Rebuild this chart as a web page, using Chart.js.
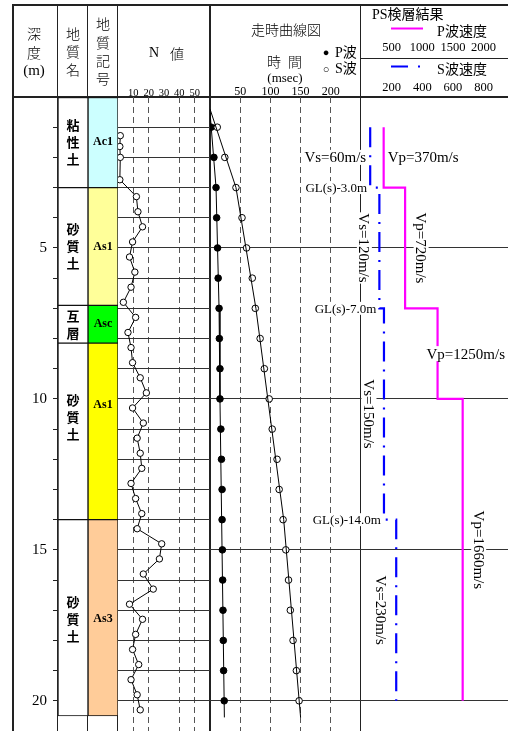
<!DOCTYPE html>
<html>
<head>
<meta charset="utf-8">
<script src="https://cdn.jsdelivr.net/npm/chart.js@4.4.0/dist/chart.umd.min.js"></script>
<style>
html, body { margin: 0; padding: 0; background: #fff; }
#wrap { position: relative; width: 508px; height: 731px; overflow: hidden; font: 13px "Liberation Serif", "Noto Sans CJK JP", serif; color: #000; }
canvas { position: absolute; top: 0; }
.ln { position: absolute; background: #222; }
.c, .l { position: absolute; white-space: nowrap; line-height: 1; }
.c { transform: translate(-50%, -50%); }
.l { transform: translateY(-50%); }
.jp { font-family: "Noto Sans CJK JP", sans-serif; font-size: 14px; font-weight: 300; }
</style>
</head>
<body>
<div id="wrap">
  <!-- frame -->
  <div class="ln" style="left:12px;top:4px;width:496px;height:2px"></div>
  <div class="ln" style="left:12px;top:96px;width:496px;height:2px"></div>
  <div class="ln" style="left:361px;top:58px;width:147px;height:1px"></div>
  <div class="ln" style="left:12px;top:4px;width:2px;height:727px"></div>
  <div class="ln" style="left:57px;top:4px;width:1px;height:727px"></div>
  <div class="ln" style="left:87px;top:4px;width:1px;height:727px"></div>
  <div class="ln" style="left:117px;top:4px;width:1px;height:727px"></div>
  <div class="ln" style="left:209px;top:4px;width:2px;height:727px"></div>
  <div class="ln" style="left:360px;top:4px;width:1px;height:727px"></div>

  <canvas id="geo" width="105" height="731" style="left:13px"></canvas>
  <canvas id="nval" width="92" height="731" style="left:118px"></canvas>
  <canvas id="tt" width="151" height="731" style="left:210px"></canvas>
  <canvas id="ps" width="218" height="731" style="left:290px"></canvas>

  <!-- header text -->
  <div class="c jp" style="left:34px;top:33px">深</div>
  <div class="c jp" style="left:34px;top:52px">度</div>
  <div class="c" style="left:34px;top:70px;font-size:15px">(m)</div>
  <div class="c jp" style="left:73px;top:33px">地</div>
  <div class="c jp" style="left:73px;top:51px">質</div>
  <div class="c jp" style="left:73px;top:69px">名</div>
  <div class="c jp" style="left:103px;top:23px">地</div>
  <div class="c jp" style="left:103px;top:42px">質</div>
  <div class="c jp" style="left:103px;top:60px">記</div>
  <div class="c jp" style="left:103px;top:78px">号</div>
  <div class="c" style="left:154px;top:53px;font-size:14px">N</div>
  <div class="c jp" style="left:177px;top:53px">値</div>
  <div class="c jp" style="left:286px;top:29px">走時曲線図</div>
  <div class="c jp" style="left:274px;top:61px">時</div>
  <div class="c jp" style="left:295px;top:61px">間</div>
  <div class="c" style="left:285px;top:77px">(msec)</div>
  <div class="c" style="left:326px;top:52px;font-size:11px">●</div>
  <div class="l" style="left:335px;top:53px;font-size:14px">P波</div>
  <div class="c" style="left:326px;top:69px;font-size:11px">○</div>
  <div class="l" style="left:335px;top:69px;font-size:14px">S波</div>
  <div class="l" style="left:372px;top:15px;font-size:14px">PS検層結果</div>
  <div class="c" style="left:462px;top:32px;font-size:14px">P波速度</div>
  <div class="c" style="left:462px;top:70px;font-size:14px">S波速度</div>
</div>

<script>
// ---- geology ----
const depthTickLabels = [5, 10, 15, 20];
const layerName = ['粘性土', '砂質土', '互層', '砂質土', '砂質土'];
const layerSymbol = ['Ac1', 'As1', 'Asc', 'As1', 'As3'];
const layerTop = [0, 3, 6.9, 8.15, 14];
const layerBottom = [3, 6.9, 8.15, 14, 20.5];
const nameDepth = [1.5, 4.95, 7.53, 10.6, 17.3];
const symbolDepth = [1.5, 4.95, 7.53, 10.2, 17.3];
const layerColors = ['#ccffff', '#ffff99', '#00ff00', '#ffff00', '#ffcc99'];

// ---- N value ----
const nDepth = [1.28, 1.64, 2.0, 2.74, 3.3, 3.8, 4.3, 4.8, 5.3, 5.8, 6.3, 6.8, 7.3, 7.8, 8.3, 8.8, 9.3, 9.8,
    10.3, 10.8, 11.3, 11.8, 12.3, 12.8, 13.3, 13.8, 14.3, 14.8, 15.3, 15.8, 16.3, 16.8, 17.3, 17.8, 18.3, 18.8,
    19.3, 19.8, 20.3];
const nValue = [1.5, 1.2, 1.5, 1.2, 12, 13, 16, 9.5, 7.5, 11, 8.5, 3.5, 11.5, 6.5, 8.5, 9.5, 14.5, 18.5,
    9.5, 16.5, 12.5, 14.5, 15.5, 8.5, 11.5, 15.5, 12.5, 28.5, 27, 16.5, 23, 7.5, 16, 11.5, 9.5, 13.5,
    8.5, 12.5, 14.5];
const nTickLabels = [10, 20, 30, 40, 50];
const nGridValues = [10, 20, 40, 50];

// ---- travel time ----
const ttDepth = [1, 2, 3, 4, 5, 6, 7, 8, 9, 10, 11, 12, 13, 14, 15, 16, 17, 18, 19, 20];
const pTime = [2, 6.5, 10, 11, 12.5, 13.5, 15, 15.5, 16.5, 16.5, 18, 19, 20, 20, 20.5, 21, 21.5, 22, 22.5, 23.5];
const sTime = [12, 24.5, 43, 53, 60.5, 70, 75, 83, 90, 98, 103, 111, 114.5, 121, 125.5, 130, 133, 137.5, 143, 147.5];
const pFitTime = [0, 10, 15, 16.5, 23.8];
const pFitDepth = [0.5, 3, 7, 10, 20.55];
const sFitTime = [0, 43, 76, 122, 150];
const sFitDepth = [0.4, 3, 7, 14, 20.55];
const timeTickLabels = [50, 100, 150, 200];

// ---- PS logging ----
const vp = [370, 720, 1250, 1660];
const vpTop = [1, 3, 7, 10];
const vpBottom = [3, 7, 10, 20];
const vs = [60, 120, 150, 230];
const vsTop = [1, 3, 7, 14];
const vsBottom = [3, 7, 14, 20];
const pTickLabels = [500, 1000, 1500, 2000];
const sTickLabels = [200, 400, 600, 800];

const SERIF = '"Liberation Serif", "Noto Sans CJK JP", serif';
Chart.defaults.animation = false;
Chart.defaults.events = [];
Chart.defaults.font.family = SERIF;
Chart.defaults.color = '#000';
Chart.defaults.plugins.legend.display = false;
Chart.defaults.plugins.tooltip.enabled = false;

const clear = 'rgba(0,0,0,0)';
const pts = (xs, ys) => xs.map((x, i) => ({ x: x, y: ys[i] }));
const steps = (vals, tops, bottoms) => vals.flatMap((v, i) => [{ x: v, y: tops[i] }, { x: v, y: bottoms[i] }]);
const noPad = s => { s.paddingLeft = 0; s.paddingRight = 0; s.paddingTop = 0; s.paddingBottom = 0; };
// keep only the listed tick labels
const onlyLabels = labels => s => { s.ticks.forEach(t => { t.label = labels.includes(t.value) ? String(t.value) : ''; }); };

const hiddenDepthAxis = (step) => ({
    type: 'linear', reverse: true, min: 0, max: 21,
    ticks: { display: false, stepSize: step },
    grid: { drawTicks: false, lineWidth: 1, color: c => c.tick && c.tick.value > 0 && c.tick.value <= 20 ? '#333' : clear },
    border: { display: false },
    afterFit: s => { s.width = 0; noPad(s); }
});

const topAxis = (min, max, step, labels, gridValues, height, padding, size, extra) => Object.assign({
    type: 'linear', position: 'top', min: min, max: max,
    ticks: { stepSize: step, autoSkip: false, maxRotation: 0, padding: padding, font: { size: size, lineHeight: 1 } },
    grid: { drawTicks: false, lineWidth: 1, color: c => c.tick && gridValues.includes(c.tick.value) ? '#555' : clear },
    border: { display: false, dash: [6, 4] },
    afterTickToLabelConversion: onlyLabels(labels),
    afterFit: s => { s.height = height; noPad(s); }
}, extra);

const baseOptions = (scales, padding) => ({
    responsive: false,
    devicePixelRatio: 1,
    layout: { autoPadding: false, padding: padding || 0 },
    scales: scales
});

// geology columns
const geoLabels = {
    id: 'geoLabels',
    afterDatasetsDraw(chart) {
        const { ctx, scales: { x, y } } = chart;
        ctx.save();
        ctx.fillStyle = '#000';
        ctx.textAlign = 'center';
        ctx.textBaseline = 'middle';
        layerName.forEach((name, i) => {
            const chars = [...name];
            const cy = y.getPixelForValue(nameDepth[i]);
            ctx.font = 'bold 13px "Noto Sans CJK JP"';
            chars.forEach((ch, k) => ctx.fillText(ch, x.getPixelForValue(0), cy + (k - (chars.length - 1) / 2) * 17));
            ctx.font = 'bold 12px "Liberation Serif"';
            ctx.fillText(layerSymbol[i], x.getPixelForValue(1), y.getPixelForValue(symbolDepth[i]));
        });
        ctx.restore();
    }
};

new Chart(document.getElementById('geo'), {
    type: 'bar',
    data: {
        labels: ['name', 'symbol'],
        datasets: [
            {
                data: layerTop.map((t, i) => ({ x: 'name', y: [t, layerBottom[i]] })),
                backgroundColor: '#fff', borderColor: '#111', borderWidth: 1, borderSkipped: false,
                grouped: false, barPercentage: 1, categoryPercentage: 1
            },
            {
                data: layerTop.map((t, i) => ({ x: 'symbol', y: [t, layerBottom[i]] })),
                backgroundColor: layerColors, borderColor: '#111', borderWidth: 1, borderSkipped: false,
                grouped: false, barPercentage: 1, categoryPercentage: 1
            }
        ]
    },
    options: baseOptions({
        x: { display: false },
        y: {
            type: 'linear', reverse: true, min: 0, max: 21, position: 'left',
            ticks: { stepSize: 1, padding: 6, autoSkip: false, font: { size: 15 } },
            afterTickToLabelConversion: onlyLabels(depthTickLabels),
            grid: { drawOnChartArea: false, tickLength: 5, color: '#222' },
            border: { display: false },
            afterFit: s => { s.width = 45; noPad(s); }
        }
    }, { top: 97, left: 0, right: 0, bottom: 0 }),
    plugins: [geoLabels]
});

// N value
new Chart(document.getElementById('nval'), {
    type: 'scatter',
    data: {
        datasets: [{
            data: pts(nValue, nDepth), showLine: true,
            borderColor: '#000', borderWidth: 1,
            pointRadius: 3.2, pointBackgroundColor: '#fff', pointBorderColor: '#000', pointBorderWidth: 1
        }]
    },
    options: baseOptions({
        x: topAxis(0, 60, 10, nTickLabels, nGridValues, 97, -1.5, 10.5),
        y: hiddenDepthAxis(1)
    })
});

// travel time curves
new Chart(document.getElementById('tt'), {
    type: 'scatter',
    data: {
        datasets: [
            { data: pts(sFitTime, sFitDepth), showLine: true, borderColor: '#000', borderWidth: 1, pointRadius: 0 },
            { data: pts(pFitTime, pFitDepth), showLine: true, borderColor: '#000', borderWidth: 1, pointRadius: 0 },
            { label: 'S波', data: pts(sTime, ttDepth), pointRadius: 3.3, pointBackgroundColor: '#fff', pointBorderColor: '#000', pointBorderWidth: 1 },
            { label: 'P波', data: pts(pTime, ttDepth), pointRadius: 3.3, pointBackgroundColor: '#000', pointBorderColor: '#000', pointBorderWidth: 1 }
        ]
    },
    options: baseOptions({
        x: topAxis(0, 250, 50, timeTickLabels, timeTickLabels, 97, -1, 12),
        y: hiddenDepthAxis(5)
    })
});

// PS logging
function labelBox(ctx, text, cx, cy, rotated) {
    const w = ctx.measureText(text).width;
    const h = parseFloat(ctx.font);
    ctx.save();
    ctx.translate(cx, cy);
    if (rotated) ctx.rotate(Math.PI / 2);
    ctx.fillStyle = '#fff';
    ctx.fillRect(-w / 2 - 1, -h / 2, w + 2, h);
    ctx.fillStyle = '#000';
    ctx.fillText(text, 0, 1);
    ctx.restore();
}

const psLabels = {
    id: 'psLabels',
    afterDatasetsDraw(chart) {
        const { ctx, chartArea, scales: { p, s, y } } = chart;
        ctx.save();
        ctx.textAlign = 'center';
        ctx.textBaseline = 'middle';
        ctx.fillStyle = '#000';

        // velocity axes tick labels, placed by the two x scales
        ctx.font = '12.5px "Liberation Serif"';
        sTickLabels.forEach(v => ctx.fillText(String(v), s.getPixelForValue(v), s.bottom - 9));
        pTickLabels.forEach(v => ctx.fillText(String(v), p.getPixelForValue(v), p.bottom - 10));

        ctx.font = '15px "Liberation Serif"';
        vs.forEach((v, i) => {
            const text = 'Vs=' + v + 'm/s';
            const x = s.getPixelForValue(v);
            const cy = y.getPixelForValue((vsTop[i] + vsBottom[i]) / 2);
            const w = ctx.measureText(text).width;
            if (vsBottom[i] - vsTop[i] <= 3) labelBox(ctx, text, x - 4 - w / 2, cy, false);
            else labelBox(ctx, text, x - 15, cy, true);
        });
        vp.forEach((v, i) => {
            const text = 'Vp=' + v + 'm/s';
            const x = p.getPixelForValue(v);
            const cy = y.getPixelForValue((vpTop[i] + vpBottom[i]) / 2);
            const w = ctx.measureText(text).width;
            if (vpBottom[i] - vpTop[i] <= 3) labelBox(ctx, text, Math.min(x + 4, chartArea.right - 3 - w) + w / 2, cy, false);
            else labelBox(ctx, text, x + 16, cy, true);
        });
        ctx.font = '13px "Liberation Serif"';
        vsTop.slice(1).forEach((d, i) => {
            const text = 'GL(s)-' + d.toFixed(1) + 'm';
            const w = ctx.measureText(text).width;
            labelBox(ctx, text, s.getPixelForValue(vs[i]) - 3 - w / 2, y.getPixelForValue(d), false);
        });

        // legend samples in the header
        const [pSet, sSet] = chart.data.datasets;
        const lx = chartArea.left + 30;
        ctx.lineWidth = 2;
        ctx.strokeStyle = pSet.borderColor;
        ctx.beginPath(); ctx.moveTo(lx, 28.5); ctx.lineTo(lx + 32, 28.5); ctx.stroke();
        ctx.strokeStyle = sSet.borderColor;
        ctx.setLineDash([17, 10, 2, 10]);
        ctx.beginPath(); ctx.moveTo(lx, 66.5); ctx.lineTo(lx + 30, 66.5); ctx.stroke();
        ctx.restore();
    }
};

const psAxis = (max, step, labels, height, weight) => {
    const axis = topAxis(0, max, step, labels, labels, height, 0, 12.5, { weight: weight });
    axis.ticks.display = false;
    return axis;
};

new Chart(document.getElementById('ps'), {
    type: 'scatter',
    data: {
        datasets: [
            { label: 'P波速度', xAxisID: 'p', data: steps(vp, vpTop, vpBottom), showLine: true, borderColor: '#ff00ff', borderWidth: 2.2, pointRadius: 0 },
            { label: 'S波速度', xAxisID: 's', data: steps(vs, vsTop, vsBottom), showLine: true, borderColor: '#0000ff', borderWidth: 2.2, borderDash: [20, 8, 2, 8], pointRadius: 0 }
        ]
    },
    options: baseOptions({
        s: psAxis(960, 200, sTickLabels, 39, 0),
        p: Object.assign(psAxis(2400, 500, pTickLabels, 58, 1), { grid: { drawOnChartArea: false, drawTicks: false } }),
        y: hiddenDepthAxis(5)
    }, { left: 71, top: 0, right: 0, bottom: 0 }),
    plugins: [psLabels]
});
</script>
</body>
</html>
